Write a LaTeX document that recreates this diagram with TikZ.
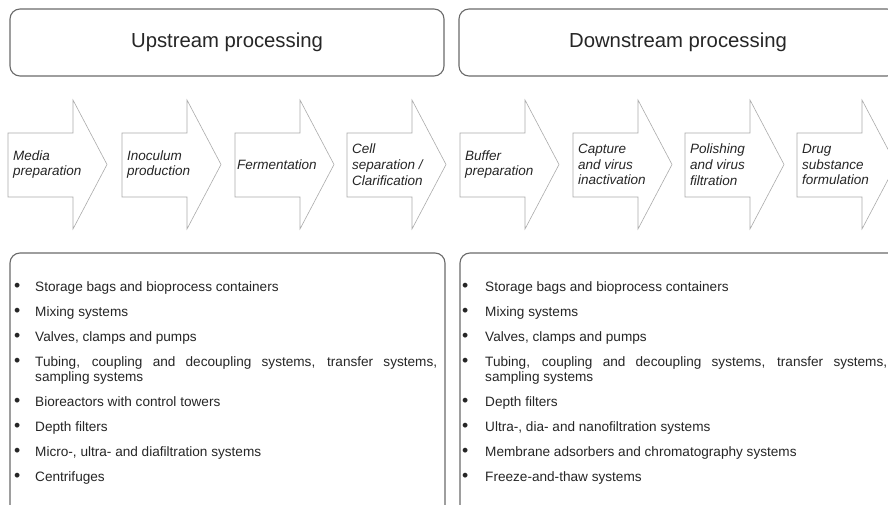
\documentclass[tikz,border=0pt]{standalone}
\usepackage{fontspec}
\setmainfont{Liberation Sans}
\definecolor{boxgray}{HTML}{6A6A6A}
\definecolor{arrgray}{HTML}{ABABAB}
\definecolor{txt}{HTML}{262626}
\newcommand\procarrow[3]{%
  \draw[arr] (#1,133) -- (#1+65,133) -- (#1+65,100) -- (#1+99,164.5) -- (#1+65,229) -- (#1+65,197) -- (#1,197) -- cycle;
  \node[atext] (#2) at (#1+5,164.5) {#3};}
\newcommand\tubingtext{\parbox[t]{402pt}{\tolerance=10000\hbadness=10000\hyphenpenalty=10000\exhyphenpenalty=10000 Tubing, coupling and decoupling systems, transfer systems, sampling systems}}
\newcommand\bul[1]{\makebox[#1][l]{\raisebox{-0.4pt}{\scalebox{1.3}{•}}}}
\begin{document}
\begin{tikzpicture}[x=1pt,y=-1pt,
  hdr/.style={draw=boxgray, line width=1.1pt, rounded corners=10pt, inner sep=0pt},
  arr/.style={draw=arrgray, line width=0.6pt, fill=white},
  atext/.style={anchor=west, align=left, font=\fontsize{13.5}{15.8}\selectfont\itshape, text=txt, inner sep=0pt},
  litem/.style={anchor=base west, inner sep=0pt, font=\fontsize{13.6}{15.5}\selectfont, text=txt},
  ltitle/.style={font=\fontsize{20.3}{24}\selectfont, text=txt}
]
\clip (0,0) rectangle (888,505);
\fill[white] (0,0) rectangle (888,505);

% header boxes
\node[hdr, minimum width=434pt, minimum height=67pt] (up) at (227,42.5) {};
\node[ltitle] (uptxt) at (up.center) {Upstream processing};
\node[hdr, minimum width=438pt, minimum height=67pt] (down) at (678,42.5) {};
\node[ltitle] (downtxt) at (down.center) {Downstream processing};

% process arrows
\procarrow{8}{a1}{Media\\preparation}
\procarrow{122}{a2}{Inoculum\\production}
\procarrow{235}{a3}{\hspace{-3pt}Fermentation}
\procarrow{347}{a4}{Cell\\separation /\\Clarification}
\procarrow{460}{a5}{Buffer\\preparation}
\procarrow{573}{a6}{Capture\\and virus\\inactivation}
\procarrow{685}{a7}{Polishing\\and virus\\filtration}
\procarrow{797}{a8}{Drug\\substance\\formulation}

% equipment boxes (bottom edge outside the picture)
\node[hdr, minimum width=435pt, minimum height=280pt] (lbox) at (227.5,393) {};
\node[hdr, minimum width=440pt, minimum height=280pt] (rbox) at (680,393) {};

% left list
\node[litem] (l1) at (14,291) {\bul{21pt}Storage bags and bioprocess containers};
\node[litem] (l2) at (14,316) {\bul{21pt}Mixing systems};
\node[litem] (l3) at (14,341) {\bul{21pt}Valves, clamps and pumps};
\node[litem] (l4) at (14,366) {\bul{21pt}\tubingtext};
\node[litem] (l5) at (14,406) {\bul{21pt}Bioreactors with control towers};
\node[litem] (l6) at (14,431) {\bul{21pt}Depth filters};
\node[litem] (l7) at (14,456) {\bul{21pt}Micro-, ultra- and diafiltration systems};
\node[litem] (l8) at (14,481) {\bul{21pt}Centrifuges};

% right list
\node[litem] (r1) at (462,291) {\bul{23pt}Storage bags and bioprocess containers};
\node[litem] (r2) at (462,316) {\bul{23pt}Mixing systems};
\node[litem] (r3) at (462,341) {\bul{23pt}Valves, clamps and pumps};
\node[litem] (r4) at (462,366) {\bul{23pt}\tubingtext};
\node[litem] (r5) at (462,406) {\bul{23pt}Depth filters};
\node[litem] (r6) at (462,431) {\bul{23pt}Ultra-, dia- and nanofiltration systems};
\node[litem] (r7) at (462,456) {\bul{23pt}Membrane adsorbers and chromatography systems};
\node[litem] (r8) at (462,481) {\bul{23pt}Freeze-and-thaw systems};
\end{tikzpicture}
\end{document}
